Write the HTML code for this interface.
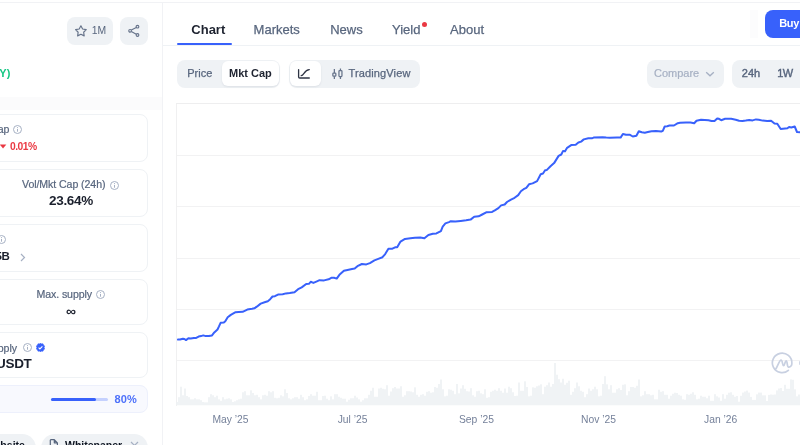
<!DOCTYPE html>
<html><head><meta charset="utf-8">
<style>
*{box-sizing:border-box;margin:0;padding:0}
html,body{width:800px;height:445px;overflow:hidden;background:#fff;}
body{will-change:transform;font-family:"Liberation Sans",sans-serif;color:#0D1421}
.a{position:absolute}
.topline{left:0;top:1.6px;width:800px;height:1.6px;background:#F1F2F5}
.vsep{left:161.6px;top:3px;width:1.6px;height:442px;background:#F1F2F5}
.btn{background:#EFF2F5;border-radius:8px}
.card{border:1px solid #EFF2F5;border-radius:8px;background:#fff}
.lbl{font-size:10.6px;color:#58667E;white-space:nowrap;letter-spacing:-0.08px;-webkit-text-stroke:0.2px #58667E}
.val{font-size:13.5px;font-weight:bold;color:#1A1F2C;white-space:nowrap;letter-spacing:-0.3px}
.tab{font-size:13px;color:#58667E;white-space:nowrap;top:22.4px;-webkit-text-stroke:0.25px #58667E}
.t11{font-size:11px;white-space:nowrap}
.xl{font-size:10.3px;color:#75819A;white-space:nowrap;top:414.3px}
</style></head><body>
<div class="a topline"></div>
<div class="a vsep"></div>

<!-- left column -->
<div class="a btn" style="left:67px;top:17px;width:46px;height:28px"></div>
<svg class="a" style="left:74px;top:24px" width="14" height="14" viewBox="0 0 14 14"><path d="M6.9 1.75 L8.61 5.0 L12.23 5.62 L9.66 8.25 L10.19 11.88 L6.9 10.25 L3.61 11.88 L4.14 8.25 L1.57 5.62 L5.19 5.0 Z" fill="none" stroke="#66738A" stroke-width="1.15" stroke-linejoin="round"/></svg>
<div class="a t11" style="left:91.8px;top:24.8px;color:#58667E;font-size:10.4px">1M</div>
<div class="a btn" style="left:120px;top:17px;width:28px;height:28px"></div>
<svg class="a" style="left:127px;top:24px" width="14" height="14" viewBox="0 0 14 14"><g fill="none" stroke="#66738A" stroke-width="1.1"><circle cx="10.5" cy="2.7" r="1.35"/><circle cx="3.1" cy="6.8" r="1.35"/><circle cx="10.5" cy="11" r="1.35"/><path d="M4.3 6.1 L9.3 3.4 M4.3 7.5 L9.3 10.3"/></g></svg>
<div class="a" style="left:-0.7px;top:67.3px;font-size:11px;font-weight:bold;color:#16C784">Y)</div>

<!-- cards -->
<div class="a" style="left:0;top:97px;width:162px;height:13px;background:#FBFBFC"></div>
<div class="a card" style="left:-8px;top:113.6px;width:156.2px;height:48.2px"></div>
<div class="a lbl" style="left:-9.8px;top:122.6px">Cap</div>
<svg class="a" style="left:13px;top:125px" width="9" height="9" viewBox="0 0 9 9"><circle cx="4.5" cy="4.5" r="4" fill="none" stroke="#A6B0C3" stroke-width="1"/><path d="M4.5 3.9V6.7" stroke="#A6B0C3" stroke-width="1"/><circle cx="4.5" cy="2.5" r="0.55" fill="#A6B0C3"/></svg>
<svg class="a" style="left:0px;top:144px" width="7" height="5" viewBox="0 0 7 5"><path d="M0.2 0.7 H5.9 L3.05 4.2 Z" fill="#EA3943" stroke="#EA3943" stroke-width="0.4" stroke-linejoin="round"/></svg>
<div class="a" style="left:10px;top:140.5px;font-size:10.3px;font-weight:bold;color:#EA3943;letter-spacing:-0.5px">0.01%</div>

<div class="a card" style="left:-8px;top:169px;width:156.2px;height:48.2px"></div>
<div class="a lbl" style="left:22px;top:177.6px">Vol/Mkt Cap (24h)</div>
<svg class="a" style="left:110.1px;top:180.6px" width="9" height="9" viewBox="0 0 9 9"><circle cx="4.5" cy="4.5" r="4" fill="none" stroke="#A6B0C3" stroke-width="1"/><path d="M4.5 3.9V6.7" stroke="#A6B0C3" stroke-width="1"/><circle cx="4.5" cy="2.5" r="0.55" fill="#A6B0C3"/></svg>
<div class="a val" style="left:49px;top:192.6px">23.64%</div>

<div class="a card" style="left:-8px;top:224.2px;width:156.2px;height:48px"></div>
<svg class="a" style="left:-3px;top:235px" width="9" height="9" viewBox="0 0 9 9"><circle cx="4.5" cy="4.5" r="4" fill="none" stroke="#A6B0C3" stroke-width="1"/><path d="M4.5 3.9V6.7" stroke="#A6B0C3" stroke-width="1"/><circle cx="4.5" cy="2.5" r="0.55" fill="#A6B0C3"/></svg>
<div class="a val" style="left:-4.5px;top:250.4px;font-size:11.5px">5B</div>
<svg class="a" style="left:20px;top:253px" width="6" height="9" viewBox="0 0 6 9"><path d="M1 1 L4.5 4.5 L1 8" fill="none" stroke="#A6B0C3" stroke-width="1.2"/></svg>

<div class="a card" style="left:-8px;top:278.9px;width:156.2px;height:46.3px"></div>
<div class="a lbl" style="left:36.4px;top:288px">Max. supply</div>
<svg class="a" style="left:96px;top:290px" width="9" height="9" viewBox="0 0 9 9"><circle cx="4.5" cy="4.5" r="4" fill="none" stroke="#A6B0C3" stroke-width="1"/><path d="M4.5 3.9V6.7" stroke="#A6B0C3" stroke-width="1"/><circle cx="4.5" cy="2.5" r="0.55" fill="#A6B0C3"/></svg>
<div class="a val" style="left:66px;top:303.3px;font-size:14px">∞</div>

<div class="a card" style="left:-8px;top:332.2px;width:156.2px;height:45.9px"></div>
<div class="a lbl" style="left:-8px;top:341.8px">upply</div>
<svg class="a" style="left:22.5px;top:343px" width="9" height="9" viewBox="0 0 9 9"><circle cx="4.5" cy="4.5" r="4" fill="none" stroke="#A6B0C3" stroke-width="1"/><path d="M4.5 3.9V6.7" stroke="#A6B0C3" stroke-width="1"/><circle cx="4.5" cy="2.5" r="0.55" fill="#A6B0C3"/></svg>
<svg class="a" style="left:36.4px;top:343.3px" width="9" height="9" viewBox="0 0 9 9"><path d="M4.5 0.1 L5.6 0.9 L7 0.8 L7.4 2.1 L8.6 2.9 L8.1 4.5 L8.6 6.1 L7.4 6.9 L7 8.2 L5.6 8.1 L4.5 8.9 L3.4 8.1 L2 8.2 L1.6 6.9 L0.4 6.1 L0.9 4.5 L0.4 2.9 L1.6 2.1 L2 0.8 L3.4 0.9 Z" fill="#3861FB" stroke="#3861FB" stroke-width="0.6" stroke-linejoin="round"/><path d="M2.6 4.6 L3.9 5.9 L6.4 3.3" fill="none" stroke="#fff" stroke-width="1.1"/></svg>
<div class="a val" style="left:-4px;top:356px">USDT</div>

<div class="a card" style="left:-8px;top:385px;width:156.2px;height:27.9px;background:#F8F9FE;border-color:#EDF0FC"></div>
<div class="a" style="left:51px;top:398px;width:56.5px;height:3px;border-radius:2px;background:#C5D1FE"></div>
<div class="a" style="left:51px;top:398px;width:45px;height:3px;border-radius:2px;background:#3861FB"></div>
<div class="a" style="left:114.6px;top:393px;font-size:11px;font-weight:bold;color:#4C70FA;letter-spacing:0.1px">80%</div>

<div class="a btn" style="left:-40px;top:434.4px;width:75.6px;height:28px;border-radius:14px"></div>
<div class="a" style="left:-15.2px;top:438.7px;font-size:10.5px;font-weight:bold;color:#0D1421">Website</div>
<div class="a btn" style="left:40.5px;top:434.4px;width:107.2px;height:28px;border-radius:14px"></div>
<svg class="a" style="left:48.5px;top:438.5px" width="10" height="8" viewBox="0 0 10 8"><path d="M1.3 8 V1.3 Q1.3 0.7 1.9 0.7 H5.3 L8.4 3.8 V8 M5.3 0.7 V3.8 H8.4" fill="none" stroke="#58667E" stroke-width="1.2" stroke-linejoin="round"/></svg>
<div class="a" style="left:65px;top:438.9px;font-size:10.5px;font-weight:bold;color:#0D1421">Whitepaper</div>
<svg class="a" style="left:129.5px;top:441px" width="9" height="4" viewBox="0 0 9 4"><path d="M1 1 L4.5 4.5 L8 1" fill="none" stroke="#A6B0C3" stroke-width="1.2"/></svg>

<!-- right panel tabs -->
<div class="a tab" style="left:191.3px;color:#1E2330;font-weight:bold;-webkit-text-stroke:0">Chart</div>
<div class="a tab" style="left:253.6px">Markets</div>
<div class="a tab" style="left:330.2px">News</div>
<div class="a tab" style="left:392px">Yield</div>
<div class="a" style="left:422px;top:22.2px;width:5px;height:5px;border-radius:50%;background:#EA3943"></div>
<div class="a tab" style="left:450.1px">About</div>
<div class="a" style="left:177px;top:43px;width:55px;height:2px;background:#3861FB;border-radius:1px"></div>
<div class="a" style="left:163px;top:45px;width:637px;height:1px;background:#EFF2F5"></div>
<div class="a" style="left:750px;top:9.5px;width:7.5px;height:28.5px;background:#FCFCFD"></div>
<div class="a" style="left:765px;top:9.5px;width:60px;height:28.5px;border-radius:8px;background:#3861FB"></div>
<div class="a" style="left:779.3px;top:16.6px;font-size:11px;font-weight:bold;color:#fff;letter-spacing:-0.4px">Buy</div>

<!-- toolbar -->
<div class="a btn" style="left:177px;top:60px;width:103px;height:28px"></div>
<div class="a" style="left:222px;top:61px;width:57px;height:25px;border-radius:6px;background:#fff;box-shadow:0 1px 2px rgba(88,102,126,.12)"></div>
<div class="a t11" style="left:187.2px;top:67px;color:#58667E;-webkit-text-stroke:0.25px #58667E">Price</div>
<div class="a t11" style="left:229px;top:67px;font-weight:bold;color:#1E2330">Mkt Cap</div>

<div class="a btn" style="left:288.5px;top:60px;width:131.5px;height:27.5px"></div>
<div class="a" style="left:290px;top:61px;width:31px;height:25px;border-radius:6px;background:#fff;box-shadow:0 1px 2px rgba(88,102,126,.12)"></div>
<svg class="a" style="left:294px;top:64px" width="52" height="20" viewBox="0 0 52 20"><g fill="none" stroke="#2E3444" stroke-width="1.3" stroke-linecap="round"><path d="M4.6 5.6 V12.9 Q4.6 14 5.7 14 H15.3"/><path d="M7.2 11.7 C10 11.5 10.3 5.7 15.3 5.6"/></g><g fill="none" stroke="#66738A" stroke-width="1.25"><path d="M40.35 4.9 V9 M40.35 12.2 V15 M46.45 4.5 V6.5 M46.45 12.5 V15"/><rect x="38.85" y="9.1" width="3" height="3.1" rx="0.7"/><rect x="44.95" y="6.5" width="3" height="6" rx="0.7"/></g></svg>
<div class="a t11" style="left:348.6px;top:67px;color:#58667E;letter-spacing:0.12px;-webkit-text-stroke:0.25px #58667E">TradingView</div>

<div class="a btn" style="left:647px;top:60px;width:77px;height:27.5px"></div>
<div class="a t11" style="left:654px;top:67px;color:#A6B0C3;-webkit-text-stroke:0.2px #A6B0C3">Compare</div>
<svg class="a" style="left:705px;top:70px" width="10" height="8" viewBox="0 0 10 8"><path d="M1.2 2.2 L5 5.8 L8.8 2.2" fill="none" stroke="#A6B0C3" stroke-width="1.3"/></svg>
<div class="a btn" style="left:731.6px;top:60px;width:100px;height:27.5px"></div>
<div class="a t11" style="left:741.8px;top:67.2px;color:#58667E;-webkit-text-stroke:0.4px #58667E">24h</div>
<div class="a t11" style="left:777.3px;top:67.2px;color:#58667E;letter-spacing:-0.7px;-webkit-text-stroke:0.4px #58667E">1W</div>

<!-- chart -->
<div class="a" style="left:176px;top:103px;width:1px;height:303px;background:#F0F0F1"></div>
<div class="a" style="left:176px;top:103px;width:624px;height:1px;background:#EEEEEF"></div>
<div class="a" style="left:177px;top:155px;width:623px;height:1px;background:#F2F2F3"></div>
<div class="a" style="left:177px;top:206px;width:623px;height:1px;background:#F2F2F3"></div>
<div class="a" style="left:177px;top:258px;width:623px;height:1px;background:#F2F2F3"></div>
<div class="a" style="left:177px;top:309px;width:623px;height:1px;background:#F2F2F3"></div>
<div class="a" style="left:177px;top:360px;width:623px;height:1px;background:#F2F2F3"></div>
<svg class="a" style="left:0;top:0" width="800" height="445" viewBox="0 0 800 445">
<g fill="#EEF1F4"><rect x="176.15" y="402.00" width="1.7" height="3.30"/><rect x="178.15" y="397.20" width="1.7" height="8.10"/><rect x="180.15" y="386.70" width="1.7" height="18.60"/><rect x="182.15" y="395.25" width="1.7" height="10.05"/><rect x="184.15" y="388.50" width="1.7" height="16.80"/><rect x="186.15" y="396.00" width="1.7" height="9.30"/><rect x="188.15" y="397.20" width="1.7" height="8.10"/><rect x="190.15" y="399.30" width="1.7" height="6.00"/><rect x="192.15" y="399.30" width="1.7" height="6.00"/><rect x="194.15" y="398.25" width="1.7" height="7.05"/><rect x="196.15" y="399.30" width="1.7" height="6.00"/><rect x="198.15" y="399.30" width="1.7" height="6.00"/><rect x="200.15" y="400.20" width="1.7" height="5.10"/><rect x="202.15" y="402.00" width="1.7" height="3.30"/><rect x="204.15" y="402.30" width="1.7" height="3.00"/><rect x="206.15" y="402.30" width="1.7" height="3.00"/><rect x="208.15" y="397.20" width="1.7" height="8.10"/><rect x="210.15" y="394.20" width="1.7" height="11.10"/><rect x="212.15" y="395.25" width="1.7" height="10.05"/><rect x="214.15" y="397.20" width="1.7" height="8.10"/><rect x="216.15" y="395.70" width="1.7" height="9.60"/><rect x="218.15" y="399.30" width="1.7" height="6.00"/><rect x="220.15" y="400.80" width="1.7" height="4.50"/><rect x="222.15" y="397.20" width="1.7" height="8.10"/><rect x="224.15" y="399.30" width="1.7" height="6.00"/><rect x="226.15" y="398.70" width="1.7" height="6.60"/><rect x="228.15" y="398.25" width="1.7" height="7.05"/><rect x="230.15" y="399.30" width="1.7" height="6.00"/><rect x="232.15" y="402.00" width="1.7" height="3.30"/><rect x="234.15" y="401.25" width="1.7" height="4.05"/><rect x="236.15" y="400.20" width="1.7" height="5.10"/><rect x="238.15" y="399.30" width="1.7" height="6.00"/><rect x="240.15" y="398.70" width="1.7" height="6.60"/><rect x="242.15" y="392.25" width="1.7" height="13.05"/><rect x="244.15" y="391.20" width="1.7" height="14.10"/><rect x="246.15" y="395.25" width="1.7" height="10.05"/><rect x="248.15" y="395.25" width="1.7" height="10.05"/><rect x="250.15" y="390.30" width="1.7" height="15.00"/><rect x="252.15" y="393.00" width="1.7" height="12.30"/><rect x="254.15" y="395.25" width="1.7" height="10.05"/><rect x="256.15" y="394.80" width="1.7" height="10.50"/><rect x="258.15" y="397.20" width="1.7" height="8.10"/><rect x="260.15" y="399.30" width="1.7" height="6.00"/><rect x="262.15" y="395.25" width="1.7" height="10.05"/><rect x="264.15" y="394.80" width="1.7" height="10.50"/><rect x="266.15" y="395.70" width="1.7" height="9.60"/><rect x="268.15" y="391.20" width="1.7" height="14.10"/><rect x="270.15" y="392.25" width="1.7" height="13.05"/><rect x="272.15" y="391.20" width="1.7" height="14.10"/><rect x="274.15" y="397.80" width="1.7" height="7.50"/><rect x="276.15" y="398.25" width="1.7" height="7.05"/><rect x="278.15" y="397.80" width="1.7" height="7.50"/><rect x="280.15" y="395.25" width="1.7" height="10.05"/><rect x="282.15" y="396.30" width="1.7" height="9.00"/><rect x="284.15" y="389.25" width="1.7" height="16.05"/><rect x="286.15" y="393.00" width="1.7" height="12.30"/><rect x="288.15" y="398.25" width="1.7" height="7.05"/><rect x="290.15" y="399.30" width="1.7" height="6.00"/><rect x="292.15" y="398.25" width="1.7" height="7.05"/><rect x="294.15" y="397.20" width="1.7" height="8.10"/><rect x="296.15" y="397.20" width="1.7" height="8.10"/><rect x="298.15" y="398.70" width="1.7" height="6.60"/><rect x="300.15" y="394.80" width="1.7" height="10.50"/><rect x="302.15" y="397.20" width="1.7" height="8.10"/><rect x="304.15" y="400.20" width="1.7" height="5.10"/><rect x="306.15" y="399.30" width="1.7" height="6.00"/><rect x="308.15" y="396.00" width="1.7" height="9.30"/><rect x="310.15" y="394.20" width="1.7" height="11.10"/><rect x="312.15" y="395.70" width="1.7" height="9.60"/><rect x="314.15" y="395.70" width="1.7" height="9.60"/><rect x="316.15" y="391.80" width="1.7" height="13.50"/><rect x="318.15" y="400.20" width="1.7" height="5.10"/><rect x="320.15" y="400.20" width="1.7" height="5.10"/><rect x="322.15" y="396.00" width="1.7" height="9.30"/><rect x="324.15" y="395.70" width="1.7" height="9.60"/><rect x="326.15" y="398.70" width="1.7" height="6.60"/><rect x="328.15" y="400.20" width="1.7" height="5.10"/><rect x="330.15" y="396.30" width="1.7" height="9.00"/><rect x="332.15" y="399.30" width="1.7" height="6.00"/><rect x="334.15" y="394.20" width="1.7" height="11.10"/><rect x="336.15" y="394.20" width="1.7" height="11.10"/><rect x="338.15" y="396.75" width="1.7" height="8.55"/><rect x="340.15" y="397.80" width="1.7" height="7.50"/><rect x="342.15" y="398.70" width="1.7" height="6.60"/><rect x="344.15" y="398.70" width="1.7" height="6.60"/><rect x="346.15" y="401.70" width="1.7" height="3.60"/><rect x="348.15" y="399.75" width="1.7" height="5.55"/><rect x="350.15" y="398.25" width="1.7" height="7.05"/><rect x="352.15" y="398.25" width="1.7" height="7.05"/><rect x="354.15" y="395.70" width="1.7" height="9.60"/><rect x="356.15" y="397.50" width="1.7" height="7.80"/><rect x="358.15" y="399.30" width="1.7" height="6.00"/><rect x="360.15" y="401.70" width="1.7" height="3.60"/><rect x="362.15" y="400.20" width="1.7" height="5.10"/><rect x="364.15" y="398.25" width="1.7" height="7.05"/><rect x="366.15" y="398.25" width="1.7" height="7.05"/><rect x="368.15" y="394.80" width="1.7" height="10.50"/><rect x="370.15" y="390.75" width="1.7" height="14.55"/><rect x="372.15" y="387.75" width="1.7" height="17.55"/><rect x="374.15" y="396.75" width="1.7" height="8.55"/><rect x="376.15" y="396.75" width="1.7" height="8.55"/><rect x="378.15" y="388.50" width="1.7" height="16.80"/><rect x="380.15" y="387.75" width="1.7" height="17.55"/><rect x="382.15" y="388.80" width="1.7" height="16.50"/><rect x="384.15" y="389.25" width="1.7" height="16.05"/><rect x="386.15" y="385.20" width="1.7" height="20.10"/><rect x="388.15" y="395.70" width="1.7" height="9.60"/><rect x="390.15" y="391.50" width="1.7" height="13.80"/><rect x="392.15" y="388.20" width="1.7" height="17.10"/><rect x="394.15" y="387.00" width="1.7" height="18.30"/><rect x="396.15" y="388.50" width="1.7" height="16.80"/><rect x="398.15" y="388.50" width="1.7" height="16.80"/><rect x="400.15" y="386.25" width="1.7" height="19.05"/><rect x="402.15" y="396.75" width="1.7" height="8.55"/><rect x="404.15" y="395.25" width="1.7" height="10.05"/><rect x="406.15" y="391.20" width="1.7" height="14.10"/><rect x="408.15" y="391.20" width="1.7" height="14.10"/><rect x="410.15" y="391.50" width="1.7" height="13.80"/><rect x="412.15" y="392.25" width="1.7" height="13.05"/><rect x="414.15" y="387.30" width="1.7" height="18.00"/><rect x="416.15" y="394.80" width="1.7" height="10.50"/><rect x="418.15" y="396.75" width="1.7" height="8.55"/><rect x="420.15" y="394.80" width="1.7" height="10.50"/><rect x="422.15" y="394.20" width="1.7" height="11.10"/><rect x="424.15" y="395.70" width="1.7" height="9.60"/><rect x="426.15" y="391.80" width="1.7" height="13.50"/><rect x="428.15" y="391.20" width="1.7" height="14.10"/><rect x="430.15" y="392.70" width="1.7" height="12.60"/><rect x="432.15" y="392.25" width="1.7" height="13.05"/><rect x="434.15" y="387.00" width="1.7" height="18.30"/><rect x="436.15" y="387.75" width="1.7" height="17.55"/><rect x="438.15" y="384.00" width="1.7" height="21.30"/><rect x="440.15" y="379.50" width="1.7" height="25.80"/><rect x="442.15" y="389.25" width="1.7" height="16.05"/><rect x="444.15" y="396.30" width="1.7" height="9.00"/><rect x="446.15" y="395.70" width="1.7" height="9.60"/><rect x="448.15" y="389.25" width="1.7" height="16.05"/><rect x="450.15" y="389.70" width="1.7" height="15.60"/><rect x="452.15" y="390.75" width="1.7" height="14.55"/><rect x="454.15" y="394.20" width="1.7" height="11.10"/><rect x="456.15" y="384.00" width="1.7" height="21.30"/><rect x="458.15" y="393.30" width="1.7" height="12.00"/><rect x="460.15" y="388.50" width="1.7" height="16.80"/><rect x="462.15" y="385.20" width="1.7" height="20.10"/><rect x="464.15" y="388.80" width="1.7" height="16.50"/><rect x="466.15" y="391.20" width="1.7" height="14.10"/><rect x="468.15" y="391.50" width="1.7" height="13.80"/><rect x="470.15" y="388.20" width="1.7" height="17.10"/><rect x="472.15" y="395.25" width="1.7" height="10.05"/><rect x="474.15" y="396.75" width="1.7" height="8.55"/><rect x="476.15" y="391.20" width="1.7" height="14.10"/><rect x="478.15" y="390.75" width="1.7" height="14.55"/><rect x="480.15" y="393.30" width="1.7" height="12.00"/><rect x="482.15" y="394.20" width="1.7" height="11.10"/><rect x="484.15" y="389.25" width="1.7" height="16.05"/><rect x="486.15" y="397.80" width="1.7" height="7.50"/><rect x="488.15" y="397.20" width="1.7" height="8.10"/><rect x="490.15" y="391.80" width="1.7" height="13.50"/><rect x="492.15" y="390.75" width="1.7" height="14.55"/><rect x="494.15" y="389.70" width="1.7" height="15.60"/><rect x="496.15" y="390.75" width="1.7" height="14.55"/><rect x="498.15" y="388.20" width="1.7" height="17.10"/><rect x="500.15" y="390.75" width="1.7" height="14.55"/><rect x="502.15" y="392.70" width="1.7" height="12.60"/><rect x="504.15" y="388.50" width="1.7" height="16.80"/><rect x="506.15" y="392.70" width="1.7" height="12.60"/><rect x="508.15" y="386.70" width="1.7" height="18.60"/><rect x="510.15" y="388.20" width="1.7" height="17.10"/><rect x="512.15" y="392.25" width="1.7" height="13.05"/><rect x="514.15" y="396.00" width="1.7" height="9.30"/><rect x="516.15" y="395.70" width="1.7" height="9.60"/><rect x="518.15" y="382.50" width="1.7" height="22.80"/><rect x="520.15" y="390.75" width="1.7" height="14.55"/><rect x="522.15" y="390.75" width="1.7" height="14.55"/><rect x="524.15" y="381.30" width="1.7" height="24.00"/><rect x="526.15" y="387.00" width="1.7" height="18.30"/><rect x="528.15" y="396.30" width="1.7" height="9.00"/><rect x="530.15" y="395.70" width="1.7" height="9.60"/><rect x="532.15" y="387.30" width="1.7" height="18.00"/><rect x="534.15" y="387.75" width="1.7" height="17.55"/><rect x="536.15" y="386.25" width="1.7" height="19.05"/><rect x="538.15" y="385.50" width="1.7" height="19.80"/><rect x="540.15" y="384.30" width="1.7" height="21.00"/><rect x="542.15" y="394.20" width="1.7" height="11.10"/><rect x="544.15" y="386.70" width="1.7" height="18.60"/><rect x="546.15" y="385.20" width="1.7" height="20.10"/><rect x="548.15" y="382.50" width="1.7" height="22.80"/><rect x="550.15" y="386.70" width="1.7" height="18.60"/><rect x="552.15" y="384.00" width="1.7" height="21.30"/><rect x="554.15" y="363.00" width="1.7" height="42.30"/><rect x="556.15" y="374.70" width="1.7" height="30.60"/><rect x="558.15" y="379.20" width="1.7" height="26.10"/><rect x="560.15" y="382.50" width="1.7" height="22.80"/><rect x="562.15" y="378.75" width="1.7" height="26.55"/><rect x="564.15" y="384.75" width="1.7" height="20.55"/><rect x="566.15" y="382.80" width="1.7" height="22.50"/><rect x="568.15" y="380.70" width="1.7" height="24.60"/><rect x="570.15" y="394.80" width="1.7" height="10.50"/><rect x="572.15" y="391.80" width="1.7" height="13.50"/><rect x="574.15" y="388.20" width="1.7" height="17.10"/><rect x="576.15" y="382.50" width="1.7" height="22.80"/><rect x="578.15" y="386.25" width="1.7" height="19.05"/><rect x="580.15" y="390.75" width="1.7" height="14.55"/><rect x="582.15" y="391.80" width="1.7" height="13.50"/><rect x="584.15" y="397.20" width="1.7" height="8.10"/><rect x="586.15" y="394.20" width="1.7" height="11.10"/><rect x="588.15" y="388.50" width="1.7" height="16.80"/><rect x="590.15" y="390.75" width="1.7" height="14.55"/><rect x="592.15" y="389.25" width="1.7" height="16.05"/><rect x="594.15" y="386.70" width="1.7" height="18.60"/><rect x="596.15" y="389.25" width="1.7" height="16.05"/><rect x="598.15" y="396.30" width="1.7" height="9.00"/><rect x="600.15" y="395.70" width="1.7" height="9.60"/><rect x="602.15" y="384.00" width="1.7" height="21.30"/><rect x="604.15" y="376.20" width="1.7" height="29.10"/><rect x="606.15" y="384.30" width="1.7" height="21.00"/><rect x="608.15" y="389.25" width="1.7" height="16.05"/><rect x="610.15" y="385.20" width="1.7" height="20.10"/><rect x="612.15" y="392.70" width="1.7" height="12.60"/><rect x="614.15" y="392.70" width="1.7" height="12.60"/><rect x="616.15" y="389.25" width="1.7" height="16.05"/><rect x="618.15" y="388.20" width="1.7" height="17.10"/><rect x="620.15" y="390.00" width="1.7" height="15.30"/><rect x="622.15" y="384.75" width="1.7" height="20.55"/><rect x="624.15" y="384.30" width="1.7" height="21.00"/><rect x="626.15" y="395.25" width="1.7" height="10.05"/><rect x="628.15" y="391.20" width="1.7" height="14.10"/><rect x="630.15" y="387.00" width="1.7" height="18.30"/><rect x="632.15" y="387.00" width="1.7" height="18.30"/><rect x="634.15" y="387.75" width="1.7" height="17.55"/><rect x="636.15" y="385.80" width="1.7" height="19.50"/><rect x="638.15" y="379.50" width="1.7" height="25.80"/><rect x="640.15" y="396.30" width="1.7" height="9.00"/><rect x="642.15" y="395.25" width="1.7" height="10.05"/><rect x="644.15" y="391.20" width="1.7" height="14.10"/><rect x="646.15" y="394.20" width="1.7" height="11.10"/><rect x="648.15" y="394.20" width="1.7" height="11.10"/><rect x="650.15" y="395.25" width="1.7" height="10.05"/><rect x="652.15" y="394.80" width="1.7" height="10.50"/><rect x="654.15" y="399.30" width="1.7" height="6.00"/><rect x="656.15" y="399.30" width="1.7" height="6.00"/><rect x="658.15" y="389.70" width="1.7" height="15.60"/><rect x="660.15" y="391.80" width="1.7" height="13.50"/><rect x="662.15" y="391.20" width="1.7" height="14.10"/><rect x="664.15" y="394.80" width="1.7" height="10.50"/><rect x="666.15" y="394.80" width="1.7" height="10.50"/><rect x="668.15" y="398.70" width="1.7" height="6.60"/><rect x="670.15" y="395.70" width="1.7" height="9.60"/><rect x="672.15" y="393.75" width="1.7" height="11.55"/><rect x="674.15" y="392.70" width="1.7" height="12.60"/><rect x="676.15" y="393.00" width="1.7" height="12.30"/><rect x="678.15" y="394.80" width="1.7" height="10.50"/><rect x="680.15" y="395.70" width="1.7" height="9.60"/><rect x="682.15" y="399.30" width="1.7" height="6.00"/><rect x="684.15" y="399.75" width="1.7" height="5.55"/><rect x="686.15" y="394.20" width="1.7" height="11.10"/><rect x="688.15" y="394.80" width="1.7" height="10.50"/><rect x="690.15" y="393.75" width="1.7" height="11.55"/><rect x="692.15" y="392.25" width="1.7" height="13.05"/><rect x="694.15" y="394.80" width="1.7" height="10.50"/><rect x="696.15" y="399.30" width="1.7" height="6.00"/><rect x="698.15" y="398.70" width="1.7" height="6.60"/><rect x="700.15" y="395.70" width="1.7" height="9.60"/><rect x="702.15" y="396.75" width="1.7" height="8.55"/><rect x="704.15" y="396.75" width="1.7" height="8.55"/><rect x="706.15" y="398.25" width="1.7" height="7.05"/><rect x="708.15" y="395.70" width="1.7" height="9.60"/><rect x="710.15" y="400.80" width="1.7" height="4.50"/><rect x="712.15" y="400.80" width="1.7" height="4.50"/><rect x="714.15" y="394.20" width="1.7" height="11.10"/><rect x="716.15" y="396.30" width="1.7" height="9.00"/><rect x="718.15" y="397.50" width="1.7" height="7.80"/><rect x="720.15" y="400.80" width="1.7" height="4.50"/><rect x="722.15" y="394.20" width="1.7" height="11.10"/><rect x="724.15" y="398.70" width="1.7" height="6.60"/><rect x="726.15" y="394.80" width="1.7" height="10.50"/><rect x="728.15" y="392.70" width="1.7" height="12.60"/><rect x="730.15" y="392.25" width="1.7" height="13.05"/><rect x="732.15" y="394.80" width="1.7" height="10.50"/><rect x="734.15" y="396.75" width="1.7" height="8.55"/><rect x="736.15" y="396.00" width="1.7" height="9.30"/><rect x="738.15" y="401.70" width="1.7" height="3.60"/><rect x="740.15" y="395.80" width="1.7" height="9.50"/><rect x="742.15" y="392.60" width="1.7" height="12.70"/><rect x="744.15" y="391.50" width="1.7" height="13.80"/><rect x="746.15" y="390.60" width="1.7" height="14.70"/><rect x="748.15" y="392.60" width="1.7" height="12.70"/><rect x="750.15" y="396.90" width="1.7" height="8.40"/><rect x="752.15" y="399.90" width="1.7" height="5.40"/><rect x="754.15" y="399.90" width="1.7" height="5.40"/><rect x="756.15" y="394.30" width="1.7" height="11.00"/><rect x="758.15" y="392.60" width="1.7" height="12.70"/><rect x="760.15" y="392.60" width="1.7" height="12.70"/><rect x="762.15" y="395.30" width="1.7" height="10.00"/><rect x="764.15" y="395.30" width="1.7" height="10.00"/><rect x="766.15" y="401.00" width="1.7" height="4.30"/><rect x="768.15" y="394.90" width="1.7" height="10.40"/><rect x="770.15" y="394.50" width="1.7" height="10.80"/><rect x="772.15" y="394.70" width="1.7" height="10.60"/><rect x="774.15" y="394.50" width="1.7" height="10.80"/><rect x="776.15" y="390.40" width="1.7" height="14.90"/><rect x="778.15" y="388.50" width="1.7" height="16.80"/><rect x="780.15" y="388.00" width="1.7" height="17.30"/><rect x="782.15" y="391.00" width="1.7" height="14.30"/><rect x="784.15" y="384.80" width="1.7" height="20.50"/><rect x="786.15" y="388.80" width="1.7" height="16.50"/><rect x="788.15" y="388.80" width="1.7" height="16.50"/><rect x="790.15" y="379.40" width="1.7" height="25.90"/><rect x="792.15" y="379.80" width="1.7" height="25.50"/><rect x="794.15" y="389.30" width="1.7" height="16.00"/><rect x="796.15" y="396.30" width="1.7" height="9.00"/><rect x="798.15" y="394.50" width="1.7" height="10.80"/></g>
<g transform="translate(768.8 349.7) scale(0.965)" fill="none" stroke="#C8D0E1" stroke-width="1.75" stroke-linecap="round" stroke-linejoin="round"><path d="M20.3 21.4 A10.1 10.1 0 1 1 23.9 14 C24 16.3 22.6 18.3 20.4 18 C18.6 17.6 19.5 11.6 18 11.6 C16.6 11.6 16.7 16.6 15.3 16.6 C14 16.6 14.3 10.8 12.7 10.8 C11 10.8 9.4 16.5 7.4 19.8"/></g>
<path d="M178.0 339.6 L180.0 339.5 L182.9 338.7 L184.4 339.0 L186.0 340.1 L188.4 338.2 L190.7 338.5 L193.9 337.9 L196.2 337.9 L198.6 336.6 L201.0 336.1 L203.3 335.4 L205.7 336.1 L208.8 336.1 L212.0 335.4 L214.3 332.4 L217.5 329.5 L219.0 326.4 L220.6 322.8 L223.8 322.5 L225.3 321.2 L227.7 317.3 L230.8 314.9 L235.6 312.2 L238.7 311.9 L242.6 311.8 L247.3 309.6 L252.1 308.8 L254.4 308.3 L256.8 306.7 L260.7 303.6 L264.6 302.3 L267.8 301.2 L270.2 299.2 L272.5 296.5 L274.9 296.2 L278.0 294.6 L282.7 294.3 L285.9 293.4 L289.8 293.0 L294.5 292.2 L298.1 289.2 L301.7 287.4 L306.2 284.0 L308.9 283.8 L310.7 281.8 L313.4 282.9 L316.9 281.4 L319.6 280.2 L324.1 280.4 L328.6 279.3 L331.3 277.8 L334.0 277.8 L336.7 278.6 L339.4 274.8 L343.9 270.7 L347.5 269.9 L352.0 268.9 L354.7 268.5 L357.4 266.2 L361.9 264.0 L366.3 264.4 L369.9 263.1 L374.4 260.4 L378.9 258.6 L382.5 257.2 L385.2 254.1 L388.4 248.7 L392.4 248.7 L395.1 247.3 L397.2 247.3 L400.5 241.6 L405.0 238.9 L410.4 238.3 L414.9 237.7 L420.3 237.5 L424.4 238.3 L428.4 235.0 L432.8 233.8 L436.4 233.4 L440.9 231.1 L442.7 226.6 L445.4 223.4 L449.0 222.1 L450.8 221.2 L455.3 221.6 L460.7 221.0 L466.1 220.3 L470.6 219.6 L474.2 216.7 L478.6 216.3 L482.2 214.5 L486.7 212.2 L492.1 211.9 L494.8 210.4 L498.4 208.1 L501.1 205.4 L504.7 204.5 L507.0 202.0 L511.0 199.6 L514.6 197.8 L518.2 195.1 L520.9 191.2 L523.6 189.2 L526.3 187.9 L529.0 184.3 L532.6 183.4 L537.1 181.1 L540.7 174.2 L543.0 173.5 L545.1 170.3 L546.9 169.9 L550.5 166.3 L554.1 163.1 L558.6 155.9 L561.3 154.5 L563.1 150.9 L564.9 151.4 L567.1 147.8 L571.2 145.1 L575.7 144.8 L578.4 142.5 L581.1 141.6 L583.8 139.4 L588.3 138.3 L591.9 138.3 L593.6 137.6 L602.6 137.2 L606.2 137.6 L609.8 137.8 L617.0 137.4 L620.6 137.6 L622.9 134.0 L626.0 134.7 L629.6 134.7 L632.8 136.5 L636.4 135.8 L638.8 131.2 L641.8 132.2 L644.8 132.7 L647.8 132.0 L651.5 131.2 L656.0 131.0 L661.2 131.5 L662.8 130.8 L664.7 126.5 L667.2 126.2 L669.5 125.5 L674.0 125.5 L677.8 123.2 L680.0 122.8 L686.0 122.5 L690.5 122.5 L694.2 123.2 L696.5 120.7 L701.0 119.8 L708.5 120.2 L711.5 121.0 L714.5 121.0 L717.2 118.5 L719.0 118.8 L721.2 120.2 L725.1 118.8 L731.2 118.8 L735.7 119.7 L739.1 120.8 L742.5 121.1 L745.8 120.6 L749.2 120.0 L752.6 120.4 L756.0 119.4 L758.8 119.7 L762.7 120.6 L767.2 121.1 L771.1 120.8 L774.5 123.6 L777.3 123.8 L780.7 129.0 L782.9 128.7 L787.4 128.3 L789.1 127.0 L791.3 127.5 L794.7 126.5 L797.0 132.0 L800.0 132.2 L803.0 132.2" fill="none" stroke="#3861FB" stroke-width="2" stroke-linejoin="round" stroke-linecap="round"/>
</svg>
<div class="a" style="left:798.8px;top:360.8px;width:2px;height:4px;border-radius:1px;background:#D3D9E6"></div>
<div class="a xl" style="left:212.4px">May ’25</div>
<div class="a xl" style="left:337.7px">Jul ’25</div>
<div class="a xl" style="left:459px">Sep ’25</div>
<div class="a xl" style="left:581px">Nov ’25</div>
<div class="a xl" style="left:704px">Jan ’26</div>
</body></html>
